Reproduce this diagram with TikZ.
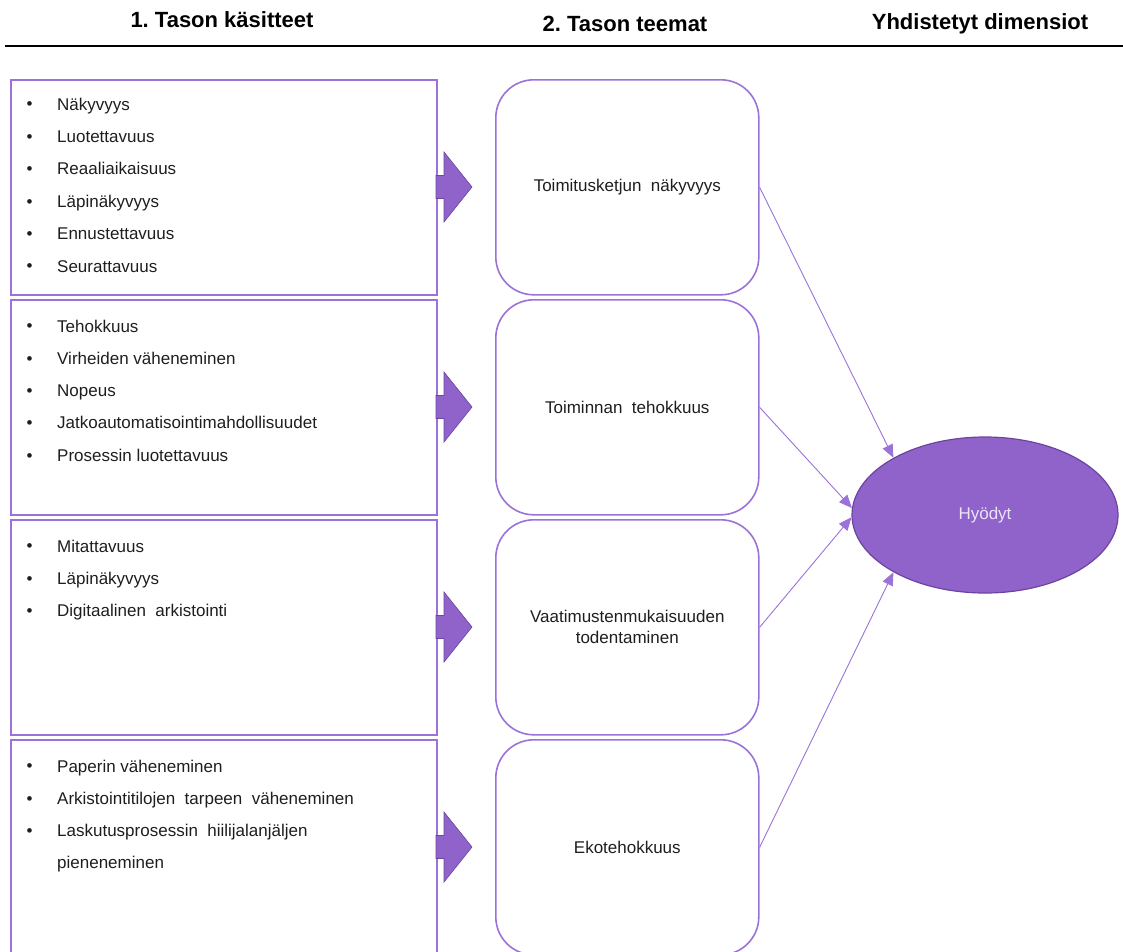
\documentclass[tikz,border=0pt]{standalone}
\usepackage{fontspec}
\setmainfont{Liberation Sans}
\usetikzlibrary{arrows.meta,shapes.geometric}

\definecolor{boxline}{RGB}{155,114,216}
\definecolor{purplefill}{RGB}{144,99,202}
\definecolor{purpleedge}{RGB}{108,68,160}
\definecolor{txt}{RGB}{30,30,30}
\definecolor{lavender}{RGB}{236,226,250}

\tikzset{
	head/.style={font=\fontsize{22}{26}\selectfont\bfseries, text=black},
	listbox/.style={draw=boxline, line width=1.6pt, anchor=north west, minimum width=426pt, minimum height=215pt, inner sep=0pt},
	themebox/.style={draw=boxline, line width=1.6pt, rounded corners=38pt, anchor=north west, minimum width=263pt, minimum height=215pt, align=center, text=txt},
	itemcont/.style={anchor=west, inner sep=0pt, text=txt, text height=12pt, text depth=4pt},
	item/.style={itemcont, label={[text=txt, label distance=21pt]left:\textbullet}},
	blockarrow/.style={fill=purplefill, draw=purpleedge, line width=0.6pt, line join=miter},
	conn/.style={draw=boxline, line width=0.9pt, -{Triangle[length=13pt, width=11pt]}}
}

\begin{document}
\begin{tikzpicture}[x=1pt, y=-1pt, font=\fontsize{17}{20}\selectfont]
	\useasboundingbox (0,0) rectangle (1123,951);
	% headings
	\node[head] (h1) at (222,20) {1.\ Tason käsitteet};
	\node[head] (h2) at (625,24) {2.\ Tason teemat};
	\node[head] (h3) at (980,24) {Yhdistetyt dimensiot};
	\coordinate (la) at (5,46); \coordinate (lb) at (1123,46);
	\draw[line width=2pt] (la) -- (lb);

	% first level boxes
	\foreach \k/\y in {1/79, 2/299, 3/519, 4/739} {\node[listbox] (k\k) at (10,\y) {};}
	\foreach \t [count=\i] in {Näkyvyys, Luotettavuus, Reaaliaikaisuus, Läpinäkyvyys, Ennustettavuus, Seurattavuus}
		{\node[item] (a\i) at (57,106+32.4*\i-32.4) {\t};}
	\foreach \t [count=\i] in {Tehokkuus, Virheiden väheneminen, Nopeus, Jatkoautomatisointimahdollisuudet, Prosessin luotettavuus}
		{\node[item] (b\i) at (57,328+32.3*\i-32.3) {\t};}
	\foreach \t [count=\i] in {Mitattavuus, Läpinäkyvyys, Digitaalinen\ \ arkistointi}
		{\node[item] (c\i) at (57,548+32.2*\i-32.2) {\t};}
	\foreach \t [count=\i] in {Paperin väheneminen, Arkistointitilojen\ \ tarpeen\ \ väheneminen, Laskutusprosessin\ \ hiilijalanjäljen}
		{\node[item] (d\i) at (57,768+32.2*\i-32.2) {\t};}
	\node[itemcont] (d4) at (57,864) {pieneneminen};

	% block arrows
	\foreach \y in {187, 407, 627, 847}
		{\draw[blockarrow] (436,\y-11.5) -- (444,\y-11.5) -- (444,\y-35) -- (472,\y) -- (444,\y+35) -- (444,\y+11.5) -- (436,\y+11.5) -- cycle;}

	% second level themes
	\node[themebox] (t1) at (495,79) {Toimitusketjun\ \ näkyvyys};
	\node[themebox] (t2) at (495,299) {Toiminnan\ \ tehokkuus};
	\node[themebox] (t3) at (495,519) {Vaatimustenmukaisuuden\\[1pt]todentaminen};
	\node[themebox] (t4) at (495,739) {Ekotehokkuus};

	% combined dimension
	\node[ellipse, fill=purplefill, draw=purpleedge, line width=1.2pt, minimum width=266pt, minimum height=156pt, text=lavender] (hy) at (985,515) {Hyödyt};

	\draw[conn] (t1.east) -- (hy.148);
	\draw[conn] (t2.east) -- (hy.177);
	\draw[conn] (t3.east) -- (hy.181);
	\draw[conn] (t4.east) -- (hy.212);
\end{tikzpicture}
\end{document}
